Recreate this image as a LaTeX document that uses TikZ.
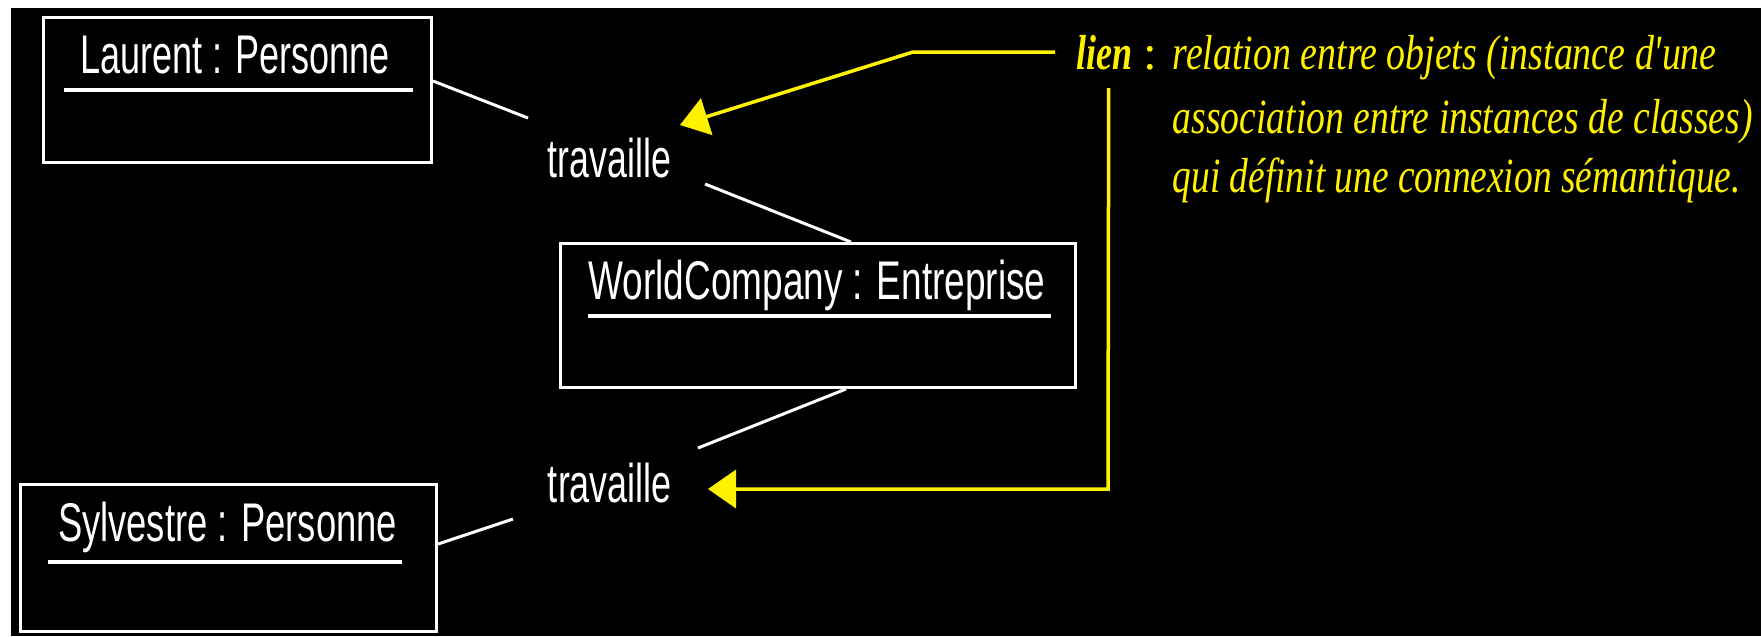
\documentclass[tikz,border=0pt]{standalone}
\usepackage{graphicx}
\usepackage{fontspec}
\setmainfont{Liberation Sans}
\newfontfamily\yfont{Liberation Serif}
\usetikzlibrary{arrows.meta,calc}
\newcommand{\fitw}[2]{\resizebox{#1}{\height}{#2}}
\tikzset{
  objbox/.style={draw=white, line width=0.3mm, inner sep=0pt, fill=none},
  lbl/.style={text=white, inner sep=0pt, anchor=base, font=\fontsize{15.5}{18}\selectfont},
  uline/.style={draw=white, line width=0.35mm},
  wire/.style={draw=white, line width=0.3mm},
  yarrow/.style={draw=yellow, line width=0.35mm, -{Triangle[length=2.8mm,width=3.8mm]}},
  ytext/.style={text=yellow, inner sep=0pt, anchor=base west, font=\yfont\itshape\fontsize{14}{16}\selectfont},
}
\begin{document}
\begin{tikzpicture}[x=0.1mm, y=-0.1mm]
\useasboundingbox (0,0) rectangle (1761,636);
\fill[white] (0,0) rectangle (1761,636);
\fill[black] (11,8) rectangle (1761,636);

% object boxes
\node[objbox, minimum width=38.8mm, minimum height=14.5mm] (L) at (237.5,90) {};
\node[objbox, minimum width=51.5mm, minimum height=14.4mm] (W) at (818,315.5) {};
\node[objbox, minimum width=41.6mm, minimum height=14.7mm] (S) at (228.5,558) {};

% object names
\node[lbl] (Lt) at (235,73) {\fitw{31mm}{Laurent : Personne}};
\node[lbl] (Wt) at (817,299) {\fitw{45.7mm}{WorldCompany : Entreprise}};
\node[lbl] (St) at (227.5,541) {\fitw{33.9mm}{Sylvestre : Personne}};
\draw[uline] (64,90) -- (413,90);
\draw[uline] (588,316) -- (1051,316);
\draw[uline] (48,562) -- (402,562);

% link labels
\node[lbl] (T1) at (609.5,177) {\fitw{12.3mm}{travaille}};
\node[lbl] (T2) at (610,502) {\fitw{12.4mm}{travaille}};

% link lines
\coordinate (c1) at (528,118);
\coordinate (c2) at (705,184);
\coordinate (c3) at (698,448);
\coordinate (c4) at (513,519);
\draw[wire] ($(L.east)+(0,-9)$) -- (c1);
\draw[wire] (c2) -- ($(W.north)+(33,0)$);
\draw[wire] ($(W.south)+(28,0)$) -- (c3);
\draw[wire] ($(S.east)+(0,-14)$) -- (c4);

% yellow annotation
\node[ytext, font=\yfont\bfseries\itshape\fontsize{14}{16}\selectfont] (Li) at (1076,69) {\fitw{5.6mm}{lien}};
\node[ytext, font=\yfont\fontsize{14}{16}\selectfont] (Co) at (1143,69) {:};
\node[ytext] (y1) at (1172,69) {\fitw{54.4mm}{relation entre objets (instance d'une}};
\node[ytext] (y2) at (1172,133) {\fitw{58mm}{association entre instances de classes)}};
\node[ytext] (y3) at (1172,192) {\fitw{56.8mm}{qui définit une connexion sémantique.}};

\coordinate (a1) at (913,52);
\coordinate (tip1) at (680,125);
\coordinate (a2) at (1108,489);
\coordinate (tip2) at (708,489);
\draw[yarrow] ($(Li.base west)+(-21,-17)$) -- (a1) -- (tip1);
\draw[yarrow] ($(Li.base)+(4,19)$) -- (a2) -- (tip2);
\end{tikzpicture}
\end{document}
